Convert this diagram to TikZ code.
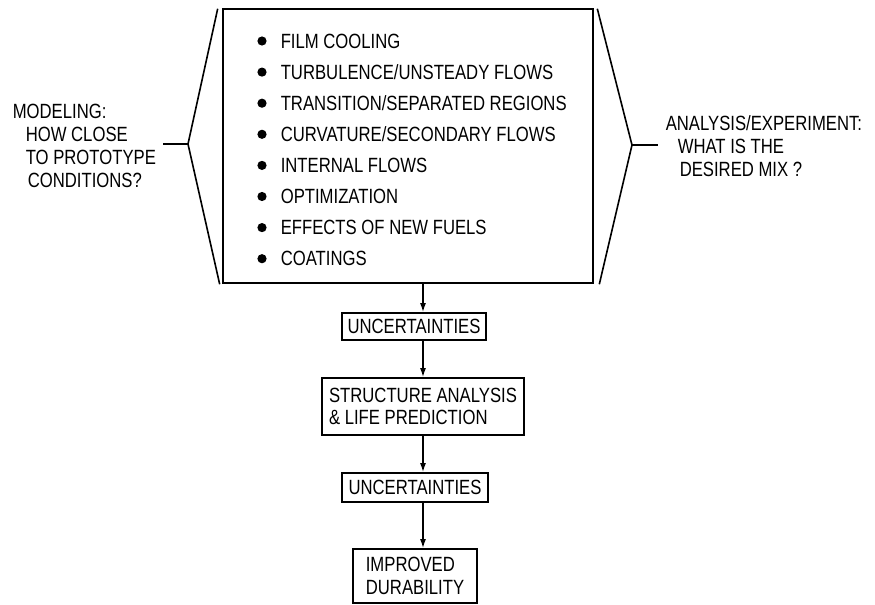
\documentclass[tikz,border=0pt]{standalone}
\usepackage{fontspec}
\setmainfont{Liberation Sans}[FakeStretch=0.81]
\usetikzlibrary{arrows.meta, positioning, calc}
\tikzset{
  every picture/.style={line width=0.8pt},
  flowbox/.style={draw, line width=0.9pt, align=left, inner sep=0pt},
  arrow/.style={-{Latex[length=4.5pt, width=3pt]}, line width=0.7pt},
  side/.style={align=left, anchor=west, inner sep=0pt},
  dot/.style={circle, fill, inner sep=0pt, minimum size=4.6pt},
}

\begin{document}
\begin{tikzpicture}[x=0.5pt, y=-0.5pt,
    every node/.append style={font=\fontsize{10.3}{11.4}\selectfont}]
  \useasboundingbox (0,0) rectangle (875,605);
  % topics box
  \node[draw, line width=1.3pt, minimum width=185pt, minimum height=137pt, inner sep=0pt] (topics) at (408,146) {};
  \foreach \txt [count=\i] in {FILM COOLING, TURBULENCE/UNSTEADY FLOWS, TRANSITION/SEPARATED REGIONS,
      CURVATURE/SECONDARY FLOWS, INTERNAL FLOWS, OPTIMIZATION, EFFECTS OF NEW FUELS, COATINGS}
  {
    \pgfmathsetmacro{\yy}{9.9+31.1*\i}
    \node[dot] (dot\i) at (262,\yy) {};
    \node[anchor=west, inner sep=0pt] (item\i) at (280,\yy) {\txt};
  }
  % brackets
  \coordinate (lapex) at (188,144);
  \coordinate (lstub) at (163,144);
  \coordinate (rapex) at (632,145);
  \coordinate (rstub) at (658,145);
  \draw ($(topics.north west)+(-4,1)$) -- (lapex) -- ($(topics.south west)+(-2,0)$);
  \draw ($(topics.north east)+(3,1)$) -- (rapex) -- ($(topics.south east)+(5,0)$);
  \draw (lstub) -- (lapex);
  \draw (rapex) -- (rstub);
  \node[side] (model) at (12,146) {MODELING:\\\hspace*{6.5pt}HOW CLOSE\\\hspace*{6.5pt}TO PROTOTYPE\\\hspace*{7.5pt}CONDITIONS?};
  \node[side] (mix) at (665,146) {ANALYSIS/EXPERIMENT:\\\hspace*{6pt}WHAT IS THE\\\hspace*{7pt}DESIRED MIX ?};
  % flow
  \coordinate (col) at (423,0);
  \node[flowbox, minimum width=72pt, minimum height=13.5pt] (unc1) at (414,326.5) {UNCERTAINTIES};
  \node[flowbox, minimum width=101pt, minimum height=28.5pt] (struct) at (423,406.5) {STRUCTURE ANALYSIS\\\& LIFE PREDICTION};
  \node[flowbox, minimum width=73pt, minimum height=14.5pt] (unc2) at (415,487.5) {UNCERTAINTIES};
  \node[flowbox, minimum width=62pt, minimum height=27pt] (durab) at (415,576) {IMPROVED\\DURABILITY};
  \draw[arrow] (topics.south -| col) -- (unc1.north -| col);
  \draw[arrow] (unc1.south -| col) -- (struct.north -| col);
  \draw[arrow] (struct.south -| col) -- (unc2.north -| col);
  \draw[arrow] (unc2.south -| col) -- (durab.north -| col);
\end{tikzpicture}
\end{document}
